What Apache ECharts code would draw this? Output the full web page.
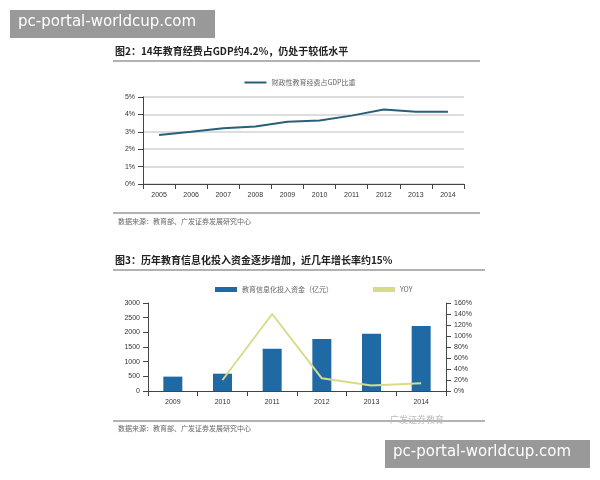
<!DOCTYPE html>
<html><head><meta charset="utf-8">
<script src="https://cdn.jsdelivr.net/npm/echarts@6/dist/echarts.min.js"></script>
<style>html,body{margin:0;background:#fff}#c{width:600px;height:480px}</style></head>
<body><div id="c"></div>
<script>
const years1 = ['2005','2006','2007','2008','2009','2010','2011','2012','2013','2014'];
const gdpShare = [2.82,3.0,3.2,3.3,3.58,3.65,3.93,4.28,4.15,4.15];
const years2 = ['2009','2010','2011','2012','2013','2014'];
const invest = [490,590,1440,1770,1950,2220];
const yoy = [null,20,140,23,10,14];
const F = '"Noto Sans CJK SC", sans-serif';
const chart = echarts.init(document.getElementById('c'));
const ax = {color:'#333',fontSize:7,fontFamily:'Liberation Sans'};
chart.setOption({
  animation:false,
  grid:[{left:143,top:97,width:321,height:87},{left:148,top:303,width:298,height:88}],
  legend:[
    {data:['财政性教育经费占GDP比重'],top:74,left:'center',itemWidth:22,itemHeight:2,icon:'rect',textStyle:{fontSize:7,color:'#666',fontFamily:F}},
    {data:['教育信息化投入资金（亿元）','YOY'],top:281,left:210,itemWidth:22,itemHeight:5,itemGap:40,icon:'rect',textStyle:{fontSize:7,color:'#666',fontFamily:F}}
  ],
  xAxis:[
    {gridIndex:0,type:'category',data:years1,boundaryGap:true,axisLine:{lineStyle:{color:'#444'}},axisTick:{show:true,lineStyle:{color:'#444'}},axisLabel:ax},
    {gridIndex:1,type:'category',data:years2,axisLine:{lineStyle:{color:'#444'}},axisTick:{show:true,lineStyle:{color:'#444'}},axisLabel:ax}
  ],
  yAxis:[
    {gridIndex:0,min:0,max:5,interval:1,axisLine:{show:true,lineStyle:{color:'#444'}},axisTick:{show:true},axisLabel:{...ax,formatter:'{value}%'},splitLine:{lineStyle:{color:'#ddd',width:2}}},
    {gridIndex:1,min:0,max:3000,interval:500,axisLine:{show:true,lineStyle:{color:'#444'}},axisTick:{show:true},axisLabel:{...ax,formatter:v=>String(v)},splitLine:{show:false}},
    {gridIndex:1,min:0,max:160,interval:20,position:'right',axisLine:{show:true,lineStyle:{color:'#444'}},axisTick:{show:true},axisLabel:{...ax,formatter:'{value}%'},splitLine:{show:false}}
  ],
  series:[
    {name:'财政性教育经费占GDP比重',type:'line',xAxisIndex:0,yAxisIndex:0,data:gdpShare,symbol:'none',lineStyle:{color:'#2a5f7a',width:2},itemStyle:{color:'#2a5f7a'}},
    {name:'教育信息化投入资金（亿元）',type:'bar',xAxisIndex:1,yAxisIndex:1,data:invest,barWidth:19,itemStyle:{color:'#1f6aa5'}},
    {name:'YOY',type:'line',xAxisIndex:1,yAxisIndex:2,data:yoy,symbol:'none',lineStyle:{color:'#d8dc8a',width:2},itemStyle:{color:'#d8dc8a'}}
  ],
  graphic:[
    {type:'text',left:115,top:46,style:{text:'图2：14年教育经费占GDP约4.2%，仍处于较低水平',font:'bold 10px '+F,fill:'#222'}},
    {type:'line',shape:{x1:113,y1:61,x2:480,y2:61},style:{stroke:'#999',lineWidth:1.5}},
    {type:'line',shape:{x1:113,y1:213,x2:480,y2:213},style:{stroke:'#999',lineWidth:1.5}},
    {type:'text',left:118,top:218,style:{text:'数据来源：教育部、广发证券发展研究中心',font:'7px '+F,fill:'#666'}},
    {type:'text',left:115,top:255,style:{text:'图3：历年教育信息化投入资金逐步增加，近几年增长率约15%',font:'bold 10px '+F,fill:'#222'}},
    {type:'line',shape:{x1:113,y1:270,x2:485,y2:270},style:{stroke:'#999',lineWidth:1.5}},
    {type:'line',shape:{x1:113,y1:421,x2:485,y2:421},style:{stroke:'#999',lineWidth:1.5}},
    {type:'text',left:118,top:425,style:{text:'数据来源：教育部、广发证券发展研究中心',font:'7px '+F,fill:'#666'}},
    {type:'text',left:390,top:415,style:{text:'广发证券教育',font:'9px '+F,fill:'#bbb'}},
    {type:'rect',shape:{x:10,y:10,width:205,height:28},style:{fill:'#999'}},
    {type:'text',left:18,top:15,style:{text:'pc-portal-worldcup.com',font:'15px "DejaVu Sans"',fill:'#fff'}},
    {type:'rect',shape:{x:385,y:440,width:205,height:28},style:{fill:'#999'}},
    {type:'text',left:393,top:445,style:{text:'pc-portal-worldcup.com',font:'15px "DejaVu Sans"',fill:'#fff'}}
  ]
});
</script></body></html>
